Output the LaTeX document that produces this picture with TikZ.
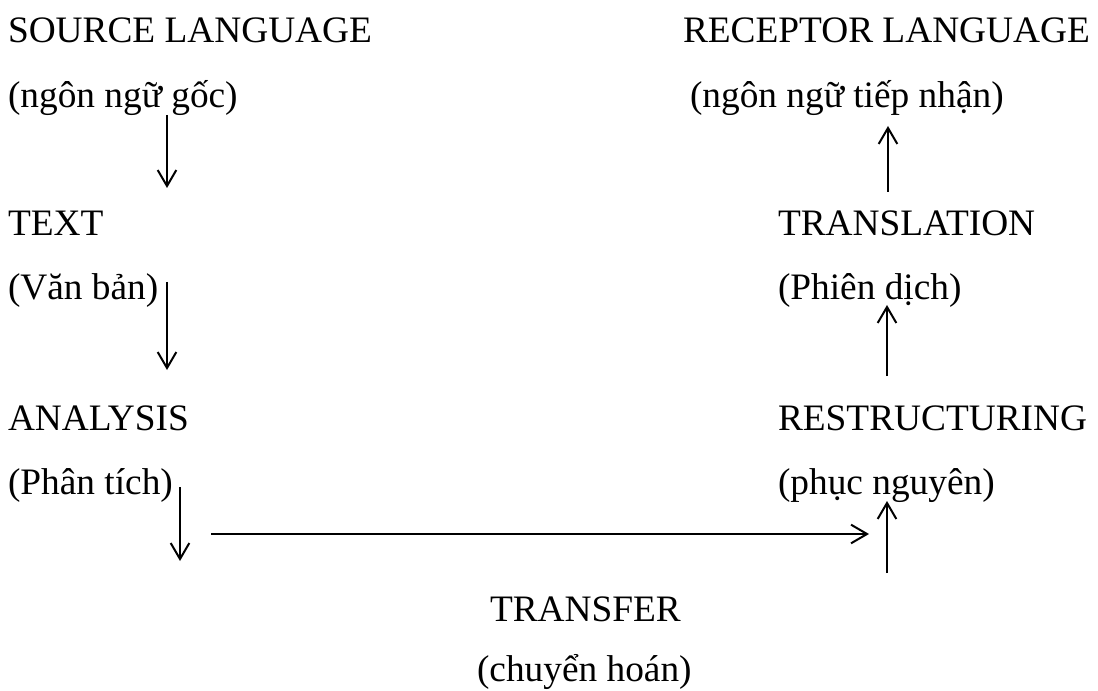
\documentclass[tikz,border=0pt]{standalone}
\usepackage{fontspec}
\setmainfont{Liberation Serif}
\usetikzlibrary{arrows.meta}
\begin{document}
\begin{tikzpicture}[x=0.75pt,y=-0.75pt,
  lbl/.style={anchor=base west,inner sep=0pt,outer sep=0pt,font=\fontsize{28}{34}\selectfont},
  arr/.style={line width=1.5pt,-{Straight Barb[length=12pt,width=14pt,line width=1.5pt]}}]
\useasboundingbox (0,0) rectangle (1098,691);
% left column
\node[lbl] (src) at (8,43) {SOURCE LANGUAGE};
\node[lbl] (srcv) at (8,108) {(ngôn ngữ gốc)};
\node[lbl] (txt) at (8,236) {TEXT};
\node[lbl] (txtv) at (8,300) {(Văn bản)};
\node[lbl] (ana) at (8,430) {ANALYSIS};
\node[lbl] (anav) at (8,494) {(Phân tích)};
% right column
\node[lbl] (rec) at (683,43) {RECEPTOR LANGUAGE};
\node[lbl] (recv) at (690,108) {(ngôn ngữ tiếp nhận)};
\node[lbl] (trl) at (778,236) {TRANSLATION};
\node[lbl] (trlv) at (778,300) {(Phiên dịch)};
\node[lbl] (res) at (778,430) {RESTRUCTURING};
\node[lbl] (resv) at (778,494) {(phục nguyên)};
% bottom
\node[lbl] (trf) at (490,621) {TRANSFER};
\node[lbl] (trfv) at (477,681) {(chuyển hoán)};
% arrow end points
\coordinate (a1s) at (167,115); \coordinate (a1e) at (167,188);
\coordinate (a2s) at (167,282); \coordinate (a2e) at (167,370);
\coordinate (a3s) at (180,487); \coordinate (a3e) at (180,561);
\coordinate (h1s) at (211,534); \coordinate (h1e) at (869,534);
\coordinate (u1s) at (887,573); \coordinate (u1e) at (887,501);
\coordinate (u2s) at (887,376); \coordinate (u2e) at (887,305);
\coordinate (u3s) at (888,192); \coordinate (u3e) at (888,126);
\draw[arr] (a1s) -- (a1e);
\draw[arr] (a2s) -- (a2e);
\draw[arr] (a3s) -- (a3e);
\draw[arr] (h1s) -- (h1e);
\draw[arr] (u1s) -- (u1e);
\draw[arr] (u2s) -- (u2e);
\draw[arr] (u3s) -- (u3e);
\end{tikzpicture}
\end{document}
